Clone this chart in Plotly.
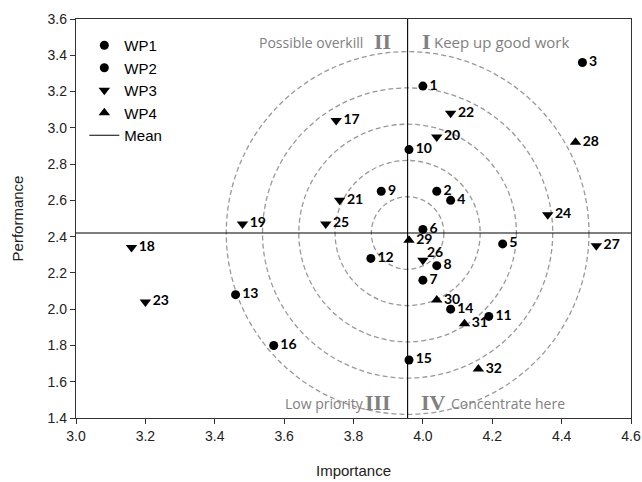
import plotly.graph_objects as go

# ---- data ----
wp1_ids = ["1", "2", "3", "4", "5", "6", "7", "8"]
wp1_imp = [4.00, 4.04, 4.46, 4.08, 4.23, 4.00, 4.00, 4.04]
wp1_perf = [3.23, 2.65, 3.36, 2.60, 2.36, 2.44, 2.16, 2.24]

wp2_ids = ["9", "10", "11", "12", "13", "14", "15", "16"]
wp2_imp = [3.88, 3.96, 4.19, 3.85, 3.46, 4.08, 3.96, 3.57]
wp2_perf = [2.65, 2.88, 1.96, 2.28, 2.08, 2.00, 1.72, 1.80]

wp3_ids = ["17", "18", "19", "20", "21", "22", "23", "24", "25", "26", "27"]
wp3_imp = [3.75, 3.16, 3.48, 4.04, 3.76, 4.08, 3.20, 4.36, 3.72, 4.00, 4.50]
wp3_perf = [3.04, 2.34, 2.47, 2.95, 2.60, 3.08, 2.04, 2.52, 2.47, 2.27, 2.35]

wp4_ids = ["28", "29", "30", "31", "32"]
wp4_imp = [4.44, 3.96, 4.04, 4.12, 4.16]
wp4_perf = [2.92, 2.38, 2.05, 1.92, 1.67]

mean_importance = 3.956
mean_performance = 2.42
ring_radii_perf = [0.2, 0.4, 0.6, 0.8, 1.0]

x_range = [3.0, 4.6]
y_range = [1.4, 3.6]
x_ticks = [3.0, 3.2, 3.4, 3.6, 3.8, 4.0, 4.2, 4.4, 4.6]
y_ticks = [1.4, 1.6, 1.8, 2.0, 2.2, 2.4, 2.6, 2.8, 3.0, 3.2, 3.4, 3.6]

quadrant_labels = ["Possible overkill", "Keep up good work", "Low priority", "Concentrate here"]
quadrant_numerals = ["II", "I", "III", "IV"]

# ---- layout geometry ----
W, H = 642, 482
ML, MR, MT, MB = 76, 11, 19, 64
pw = W - ML - MR
ph = H - MT - MB
px_per_x = pw / (x_range[1] - x_range[0])
px_per_y = ph / (y_range[1] - y_range[0])
aspect = px_per_y / px_per_x

label_font = dict(family="Lato", size=14, color="black")

fig = go.Figure()

def add_series(name, xs, ys, ids, symbol, size, raised=()):
    shown = ["" if i in raised else i for i in ids]
    fig.add_trace(go.Scatter(
        x=xs, y=ys, mode="markers+text", name=name,
        text=shown, textposition="middle right",
        textfont=label_font,
        texttemplate="<b>%{text}</b>",
        marker=dict(symbol=symbol, size=size, color="black"),
        cliponaxis=False,
    ))
    # labels drawn slightly above their marker
    for i, x, y in zip(ids, xs, ys):
        if i in raised:
            fig.add_annotation(x=x, y=y, xref="x", yref="y", text="<b>" + i + "</b>",
                               showarrow=False, xanchor="left", yanchor="middle",
                               xshift=2, yshift=9, font=label_font)

add_series("WP1", wp1_imp, wp1_perf, wp1_ids, "circle", 9)
add_series("WP2", wp2_imp, wp2_perf, wp2_ids, "circle", 9)
add_series("WP3", wp3_imp, wp3_perf, wp3_ids, "triangle-down", 10, raised=("26",))
add_series("WP4", wp4_imp, wp4_perf, wp4_ids, "triangle-up", 10)

# mean lines
fig.add_trace(go.Scatter(
    x=[mean_importance, mean_importance, None, x_range[0], x_range[1]],
    y=[y_range[0], y_range[1], None, mean_performance, mean_performance],
    mode="lines", name="Mean", line=dict(color="black", width=1.1),
))

# dashed rings (circular on screen)
for r in ring_radii_perf:
    rx = r * aspect
    fig.add_shape(type="circle", xref="x", yref="y",
                  x0=mean_importance - rx, x1=mean_importance + rx,
                  y0=mean_performance - r, y1=mean_performance + r,
                  line=dict(color="#999999", width=1.3, dash="5px,3px"), layer="below")

gray = "#808080"
txt_font = dict(family="Open Sans", size=14, color=gray)
txt_font_r = dict(family="Open Sans", size=15, color=gray)
num_font = dict(family="Liberation Serif", size=22, color=gray)

def qlabel(text, xshift, top, anchor, font):
    fig.add_annotation(x=mean_importance, xref="x", y=1 if top else 0, yref="paper",
                       xshift=xshift, yshift=(-23 if top else 15) + (1 if font is num_font else 0),
                       text=text, showarrow=False, xanchor=anchor, yanchor="middle", font=font)

qlabel(quadrant_labels[0], -43, True, "right", txt_font)
qlabel("<b>" + quadrant_numerals[0] + "</b>", -15, True, "right", num_font)
qlabel("<b>" + quadrant_numerals[1] + "</b>", 12, True, "left", num_font)
qlabel(quadrant_labels[1], 24, True, "left", txt_font_r)
qlabel(quadrant_labels[2], -42, False, "right", txt_font)
qlabel("<b>" + quadrant_numerals[2] + "</b>", -15, False, "right", num_font)
qlabel("<b>" + quadrant_numerals[3] + "</b>", 11, False, "left", num_font)
qlabel(quadrant_labels[3], 41, False, "left", txt_font)

axis_common = dict(showgrid=False, zeroline=False, showline=True, linecolor="#333333", linewidth=1.3,
                   mirror=True, ticks="outside", ticklen=5, tickcolor="#333333", automargin=False,
                   tickfont=dict(family="Liberation Sans", size=14, color="#222222"))

fig.update_layout(
    width=W, height=H,
    margin=dict(l=ML, r=MR, t=MT, b=MB, autoexpand=False),
    paper_bgcolor="white", plot_bgcolor="white",
    xaxis=dict(range=x_range, tickvals=x_ticks, tickformat=".1f",
               title=dict(text="Importance", font=dict(family="Liberation Sans", size=15, color="#222222"), standoff=22),
               **axis_common),
    yaxis=dict(range=y_range, tickvals=y_ticks, tickformat=".1f",
               title=dict(text="Performance", font=dict(family="Liberation Sans", size=15, color="#222222"), standoff=20),
               **axis_common),
    legend=dict(x=0.015, y=0.975, xanchor="left", yanchor="top", bgcolor="rgba(0,0,0,0)",
                font=dict(family="Liberation Sans", size=15, color="black"), tracegroupgap=0),
    showlegend=True,
)

fig.write_html("out.html", config={"displayModeBar": False},
               post_script="document.body.style.margin='0';")
